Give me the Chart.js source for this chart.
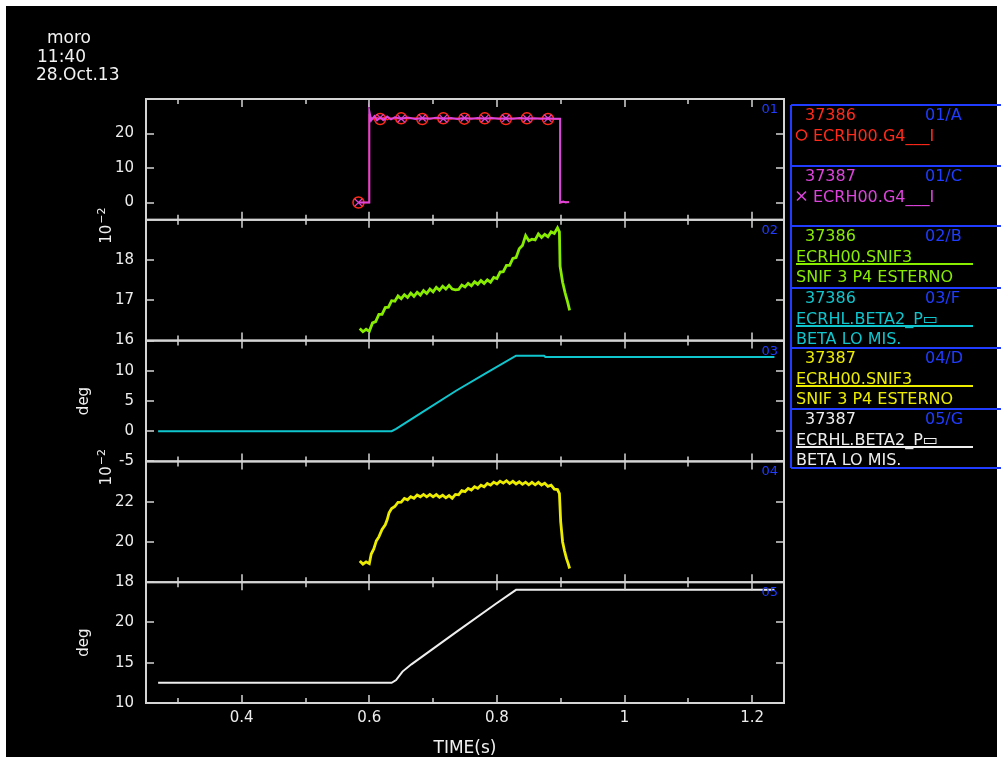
<!DOCTYPE html>
<html>
<head>
<meta charset="utf-8">
<script src="https://cdn.jsdelivr.net/npm/chart.js@4/dist/chart.umd.min.js"></script>
<style>
  html, body { margin: 0; padding: 0; background: #fff; }
  #frame { position: absolute; left: 6px; top: 6px; width: 991px; height: 751px; background: #000; }
  #plot { position: absolute; left: 0; top: 0; }
</style>
</head>
<body>
<div id="frame"></div>
<canvas id="plot" width="1001" height="759"></canvas>
<script>
// panel 1: ECRH00.G4___I, shots 37386 (red, circles) and 37387 (magenta, crosses)
const tG4 = [0.583, 0.600, 0.600, 0.603, 0.608, 0.612, 0.617, 0.623, 0.628, 0.634,
             0.640, 0.650, 0.660, 0.672, 0.683, 0.695, 0.705, 0.716, 0.728, 0.738,
             0.749, 0.760, 0.770, 0.781, 0.792, 0.803, 0.814, 0.825, 0.836, 0.847,
             0.858, 0.869, 0.880, 0.890, 0.899, 0.899, 0.904, 0.908, 0.913];
const vG4_37386 = [0, 0, 25.2, 24.6, 24.1, 24.7, 24.2, 24.6, 24.0, 24.5,
                   24.2, 24.4, 24.3, 24.5, 24.2, 24.4, 24.3, 24.4, 24.2, 24.4,
                   24.3, 24.4, 24.2, 24.4, 24.3, 24.4, 24.2, 24.4, 24.3, 24.4,
                   24.3, 24.4, 24.2, 24.3, 24.2, 0, 0.1, 0.2, 0];
const vG4_37387 = [0, 0, 26.5, 23.8, 25.0, 23.9, 24.6, 24.0, 24.9, 24.1,
                   24.7, 24.3, 24.6, 24.2, 24.5, 24.3, 24.6, 24.3, 24.5, 24.2,
                   24.5, 24.3, 24.5, 24.3, 24.5, 24.3, 24.4, 24.3, 24.5, 24.3,
                   24.4, 24.3, 24.4, 24.3, 24.3, 0, 0.3, 0, 0.2];
const g4MarkerIdx = [0, 6, 11, 14, 17, 20, 23, 26, 29, 32];

// panel 2: ECRH00.SNIF3 shot 37386 (units 1e-2)
const tSnif86 = [0.585, 0.590, 0.595, 0.600, 0.605, 0.610, 0.615, 0.620, 0.625, 0.630,
                 0.635, 0.640, 0.645, 0.650, 0.655, 0.660, 0.665, 0.670, 0.675, 0.680,
                 0.685, 0.690, 0.695, 0.700, 0.705, 0.710, 0.715, 0.720, 0.725, 0.730,
                 0.735, 0.740, 0.745, 0.750, 0.755, 0.760, 0.765, 0.770, 0.775, 0.780,
                 0.785, 0.790, 0.795, 0.800, 0.805, 0.810, 0.815, 0.820, 0.825, 0.830,
                 0.835, 0.840, 0.845, 0.850, 0.855, 0.860, 0.865, 0.870, 0.875, 0.880,
                 0.885, 0.890, 0.895, 0.898, 0.899, 0.903, 0.907, 0.911, 0.914];
const vSnif86 = [16.30, 16.22, 16.28, 16.23, 16.44, 16.47, 16.65, 16.65, 16.82, 16.83,
                 16.99, 16.98, 17.11, 17.04, 17.14, 17.07, 17.18, 17.10, 17.20, 17.13,
                 17.24, 17.17, 17.28, 17.21, 17.32, 17.25, 17.35, 17.28, 17.37, 17.28,
                 17.26, 17.27, 17.38, 17.33, 17.42, 17.36, 17.46, 17.40, 17.49, 17.42,
                 17.51, 17.45, 17.57, 17.54, 17.70, 17.71, 17.87, 17.87, 18.04, 18.06,
                 18.28, 18.36, 18.61, 18.48, 18.52, 18.50, 18.65, 18.56, 18.64, 18.58,
                 18.70, 18.66, 18.80, 18.70, 17.85, 17.45, 17.18, 16.95, 16.75];

// panel 3: ECRHL.BETA2 shot 37386 (deg)
const tBeta86 = [0.269, 0.635, 0.642, 0.690, 0.736, 0.783, 0.830, 0.874, 0.876, 1.235];
const vBeta86 = [0, 0, 0.4, 3.6, 6.7, 9.6, 12.5, 12.5, 12.3, 12.3];

// panel 4: ECRH00.SNIF3 shot 37387 (units 1e-2)
const tSnif87 = [0.585, 0.590, 0.595, 0.600, 0.603, 0.607, 0.611, 0.615, 0.620, 0.625,
                 0.628, 0.631, 0.635, 0.640, 0.645, 0.650, 0.655, 0.660, 0.665, 0.670,
                 0.675, 0.680, 0.685, 0.690, 0.695, 0.700, 0.705, 0.710, 0.715, 0.720,
                 0.725, 0.730, 0.735, 0.740, 0.745, 0.750, 0.755, 0.760, 0.765, 0.770,
                 0.775, 0.780, 0.785, 0.790, 0.795, 0.800, 0.805, 0.810, 0.815, 0.820,
                 0.825, 0.830, 0.835, 0.840, 0.845, 0.850, 0.855, 0.860, 0.865, 0.870,
                 0.875, 0.880, 0.885, 0.890, 0.895, 0.898, 0.900, 0.903, 0.906, 0.909,
                 0.912, 0.914];
const vSnif87 = [19.05, 18.90, 19.01, 18.92, 19.40, 19.65, 20.05, 20.25, 20.62, 20.85,
                 21.10, 21.45, 21.66, 21.76, 21.97, 21.98, 22.16, 22.09, 22.25, 22.17,
                 22.33, 22.24, 22.36, 22.24, 22.36, 22.24, 22.35, 22.22, 22.32, 22.19,
                 22.30, 22.17, 22.36, 22.34, 22.55, 22.50, 22.66, 22.58, 22.74, 22.66,
                 22.82, 22.74, 22.90, 22.82, 22.97, 22.88, 23.02, 22.92, 23.04, 22.90,
                 23.01, 22.88, 22.99, 22.86, 22.97, 22.84, 22.96, 22.84, 22.96, 22.83,
                 22.92, 22.76, 22.82, 22.62, 22.60, 22.40, 21.0, 20.0, 19.55, 19.18,
                 18.9, 18.68];

// panel 5: ECRHL.BETA2 shot 37387 (deg)
const tBeta87 = [0.269, 0.635, 0.642, 0.652, 0.666, 0.736, 0.799, 0.830, 1.235];
const vBeta87 = [12.5, 12.5, 12.85, 13.9, 14.8, 18.8, 22.35, 24.05, 24.05];

// axes
const xTickValues = [0.4, 0.6, 0.8, 1, 1.2];
const xTickLabels = ['0.4', '0.6', '0.8', '1', '1.2'];
const xTickMarks = [0.3, 0.4, 0.5, 0.6, 0.7, 0.8, 0.9, 1, 1.1, 1.2];
const panelIds = ['y1', 'y2', 'y3', 'y4', 'y5'];
const panelNames = ['01', '02', '03', '04', '05'];
const panelUnits = ['', '10^-2', 'deg', '10^-2', 'deg'];
const panelMin = [-5, 16, -5, 18, 10];
const panelMax = [30, 19, 15, 24, 25];
const panelTicks = [[0, 10, 20], [16, 17, 18], [-5, 0, 5, 10], [18, 20, 22], [10, 15, 20]];

// legend
const legendShots = ['37386', '37387', '37386', '37386', '37387', '37387'];
const legendIds = ['01/A', '01/C', '02/B', '03/F', '04/D', '05/G'];
const legendSignals = ['ECRH00.G4___I', 'ECRH00.G4___I', 'ECRH00.SNIF3', 'ECRHL.BETA2_P▭', 'ECRH00.SNIF3', 'ECRHL.BETA2_P▭'];
const legendDescs = ['', '', 'SNIF 3 P4 ESTERNO', 'BETA LO MIS.', 'SNIF 3 P4 ESTERNO', 'BETA LO MIS.'];
const legendMarkers = ['circle', 'cross', '', '', '', ''];

const RED = '#ff2a1a', MAGENTA = '#dd44dd', GREEN = '#88ec00', CYAN = '#10c6ce', YELLOW = '#ecec00', WHITE = '#eeeeee';
const BLUE = '#1f3cff', AXIS = '#d4d4d4', FONT = "'DejaVu Sans', sans-serif";
const legendColors = [RED, MAGENTA, GREEN, CYAN, YELLOW, WHITE];

Chart.defaults.font.family = FONT;

const pts = (ts, vs) => ts.map((t, i) => ({ x: t, y: vs[i] }));
const markerRadius = (n, r) => Array.from({ length: n }, (_, i) => g4MarkerIdx.includes(i) ? r : 0);

const decor = {
  id: 'decor',
  afterDraw(chart) {
    const c = chart.ctx, a = chart.chartArea, xs = chart.scales.x;
    c.save();
    c.fillStyle = '#f2f2f2';
    c.font = '17px ' + FONT;
    c.textAlign = 'left';
    c.textBaseline = 'alphabetic';
    c.fillText('moro', 47, 43);
    c.fillText('11:40', 37, 62);
    c.fillText('28.Oct.13', 36, 80);

    panelIds.forEach((id, p) => {
      const ys = chart.scales[id];
      c.strokeStyle = AXIS;
      c.lineWidth = 2;
      c.strokeRect(a.left, ys.top, a.right - a.left, ys.bottom - ys.top);
      c.lineWidth = 1.5;
      c.beginPath();
      xTickMarks.forEach(v => {
        const px = Math.round(xs.getPixelForValue(v));
        const len = xTickValues.includes(v) ? 8 : 5;
        c.moveTo(px, ys.top); c.lineTo(px, ys.top + len);
        c.moveTo(px, ys.bottom); c.lineTo(px, ys.bottom - len);
      });
      panelTicks[p].forEach(v => {
        const py = Math.round(ys.getPixelForValue(v));
        c.moveTo(a.left, py); c.lineTo(a.left + 8, py);
        c.moveTo(a.right, py); c.lineTo(a.right - 8, py);
      });
      c.stroke();

      c.fillStyle = BLUE;
      c.font = '13px ' + FONT;
      c.textAlign = 'right';
      c.textBaseline = 'alphabetic';
      c.fillText(panelNames[p], a.right - 6, ys.top + 14);

      // rotated unit labels
      c.fillStyle = '#f0f0f0';
      if (panelUnits[p] === '10^-2') {
        c.save();
        c.translate(111, ys.top + 24);
        c.rotate(-Math.PI / 2);
        c.textAlign = 'left';
        c.font = '15px ' + FONT;
        c.fillText('10', 0, 0);
        const w = c.measureText('10').width;
        c.font = '11px ' + FONT;
        c.fillText('\u22122', w + 1, -6);
        c.restore();
      } else if (panelUnits[p] === 'deg') {
        c.save();
        c.translate(84, (ys.top + ys.bottom) / 2);
        c.rotate(-Math.PI / 2);
        c.textAlign = 'center';
        c.textBaseline = 'middle';
        c.font = '15px ' + FONT;
        c.fillText('deg', 0, 0);
        c.restore();
      }
    });

    c.fillStyle = '#f0f0f0';
    c.font = '17px ' + FONT;
    c.textAlign = 'center';
    c.textBaseline = 'alphabetic';
    c.fillText('TIME(s)', (a.left + a.right) / 2, 753);

    // legend boxes
    const tops = [105, 166, 226, 288, 348, 409, 468];
    c.strokeStyle = BLUE;
    c.lineWidth = 2;
    c.beginPath();
    tops.forEach(y => { c.moveTo(791, y); c.lineTo(1001, y); });
    c.moveTo(791, tops[0]); c.lineTo(791, tops[tops.length - 1]);
    c.stroke();

    c.textAlign = 'left';
    legendShots.forEach((shot, i) => {
      const t = tops[i], col = legendColors[i];
      c.font = '16px ' + FONT;
      c.fillStyle = col;
      c.fillText(shot, 805, t + 14.5);
      c.fillStyle = BLUE;
      c.fillText(legendIds[i], 925, t + 14.5);
      c.fillStyle = col;
      c.strokeStyle = col;
      if (legendMarkers[i]) {
        c.lineWidth = 1.5;
        c.beginPath();
        if (legendMarkers[i] === 'circle') {
          c.arc(801.5, t + 30, 5, 0, Math.PI * 2);
        } else {
          c.moveTo(797, t + 25.5); c.lineTo(806, t + 34.5);
          c.moveTo(806, t + 25.5); c.lineTo(797, t + 34.5);
        }
        c.stroke();
        c.fillText(legendSignals[i], 813, t + 35.5);
      } else {
        c.fillText(legendSignals[i], 796, t + 35.5);
        c.lineWidth = 2;
        c.beginPath();
        c.moveTo(796, t + 38); c.lineTo(973, t + 38);
        c.stroke();
        c.fillText(legendDescs[i], 796, t + 56);
      }
    });
    c.restore();
  }
};

function yScale(p) {
  return {
    type: 'linear',
    position: 'left',
    stack: 'panels',
    stackWeight: 1,
    weight: 5 - p,
    min: panelMin[p],
    max: panelMax[p],
    grid: { display: false, drawTicks: false },
    border: { display: false },
    afterBuildTicks: s => { s.ticks = panelTicks[p].map(v => ({ value: v })); },
    afterFit: s => { s.width = 146; },
    ticks: { color: '#ececec', padding: 12, font: { size: 15 } }
  };
}

new Chart(document.getElementById('plot').getContext('2d'), {
  type: 'line',
  data: {
    datasets: [
      { label: '37387 ECRH00.G4___I', data: pts(tG4, vG4_37387), yAxisID: 'y1', order: 0,
        borderColor: MAGENTA, borderWidth: 2, pointStyle: 'crossRot',
        pointRadius: markerRadius(tG4.length, 5), pointBorderColor: MAGENTA, pointBorderWidth: 1.2,
        pointBackgroundColor: 'transparent' },
      { label: '37386 ECRH00.G4___I', data: pts(tG4, vG4_37386), yAxisID: 'y1', order: 1,
        borderColor: RED, borderWidth: 1.5, pointStyle: 'circle',
        pointRadius: markerRadius(tG4.length, 5.5), pointBorderColor: RED, pointBorderWidth: 1.5,
        pointBackgroundColor: 'transparent' },
      { label: '37386 ECRH00.SNIF3', data: pts(tSnif86, vSnif86), yAxisID: 'y2',
        borderColor: GREEN, borderWidth: 2.8, pointRadius: 0 },
      { label: '37386 ECRHL.BETA2', data: pts(tBeta86, vBeta86), yAxisID: 'y3',
        borderColor: CYAN, borderWidth: 2, pointRadius: 0 },
      { label: '37387 ECRH00.SNIF3', data: pts(tSnif87, vSnif87), yAxisID: 'y4',
        borderColor: YELLOW, borderWidth: 2.8, pointRadius: 0 },
      { label: '37387 ECRHL.BETA2', data: pts(tBeta87, vBeta87), yAxisID: 'y5',
        borderColor: WHITE, borderWidth: 2, pointRadius: 0 }
    ]
  },
  options: {
    responsive: false,
    animation: false,
    layout: { padding: { top: 99, right: 217, bottom: 6, left: 0 } },
    elements: { line: { tension: 0 } },
    plugins: { legend: { display: false }, tooltip: { enabled: false } },
    scales: {
      x: {
        type: 'linear',
        position: 'bottom',
        min: 0.25,
        max: 1.25,
        grid: { display: false, drawTicks: false },
        border: { display: false },
        afterBuildTicks: s => { s.ticks = xTickValues.map(v => ({ value: v })); },
        afterFit: s => { s.height = 50; },
        ticks: { color: '#ececec', padding: 6, font: { size: 15 }, maxRotation: 0,
                 callback: (v, i) => xTickLabels[i] }
      },
      y1: yScale(0),
      y2: yScale(1),
      y3: yScale(2),
      y4: yScale(3),
      y5: yScale(4)
    }
  },
  plugins: [decor]
});
</script>
</body>
</html>
